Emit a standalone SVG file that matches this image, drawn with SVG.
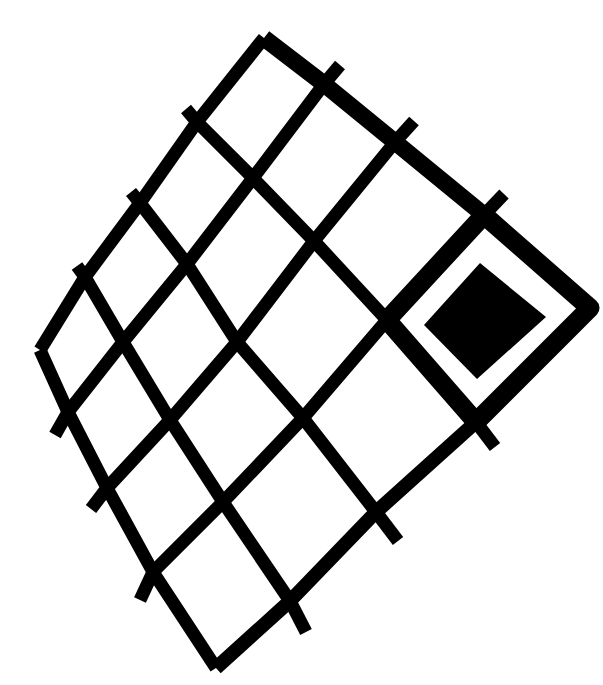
<svg xmlns="http://www.w3.org/2000/svg" width="603" height="685" viewBox="0 0 603 685">
<style>
.ln{fill:none;stroke:#000;stroke-width:13;stroke-linejoin:round;stroke-linecap:butt}
.thick{stroke-width:17}
.mid{stroke-width:14}
.hl{stroke-width:19}
.tk{fill:none;stroke:#000;stroke-width:13;stroke-linecap:butt}
</style>
<rect width="603" height="685" fill="#fff"/>
<g id="grid">
<!-- rows (down-right) -->
<polyline class="ln thick" points="264,38 324,84 395,142 484,215 590,308"/>
<polyline class="ln" points="197,122 253,178 314,241 387,320 476,422"/>
<polyline class="ln" points="140,203 187,264 237,342 303,418 376,512"/>
<polyline class="ln" points="85,277 123,342 170,420 223,502 290,601"/>
<polyline class="ln" points="40,350 68,412 107,488 153,572 216,668"/>
<!-- columns (up-right) -->
<polyline class="ln" points="40,350 85,277 140,203 197,122 264,38"/>
<polyline class="ln" points="68,412 123,342 187,264 253,178 324,84"/>
<polyline class="ln" points="107,488 170,420 237,342 314,241 395,142"/>
<polyline class="ln" points="153,572 223,502 303,418 387,320 484,215"/>
<polyline class="ln mid" points="216,668 290,601 376,512 476,422 590,308"/>
</g>
<g id="ticks">
<line class="tk" x1="197" y1="122" x2="186" y2="109"/>
<line class="tk" x1="140" y1="203" x2="131" y2="192"/>
<line class="tk" x1="85" y1="277" x2="77" y2="266"/>
<line class="tk" x1="476" y1="422" x2="495" y2="447"/>
<line class="tk" x1="376" y1="512" x2="398" y2="541"/>
<line class="tk" x1="290" y1="601" x2="306" y2="632"/>
<line class="tk" x1="324" y1="84" x2="340" y2="65"/>
<line class="tk" x1="395" y1="142" x2="414" y2="121"/>
<line class="tk" x1="484" y1="215" x2="504" y2="194"/>
<line class="tk" x1="68" y1="412" x2="55" y2="435"/>
<line class="tk" x1="107" y1="488" x2="91" y2="509"/>
<line class="tk" x1="153" y1="572" x2="140" y2="600"/>
</g>
<g id="highlight">
<polyline class="ln hl" points="387,320 484,215 590,308 476,422 387,320"/>
<polygon points="480,263 546,317 477,379 424,325" fill="#000"/>
</g>
</svg>
